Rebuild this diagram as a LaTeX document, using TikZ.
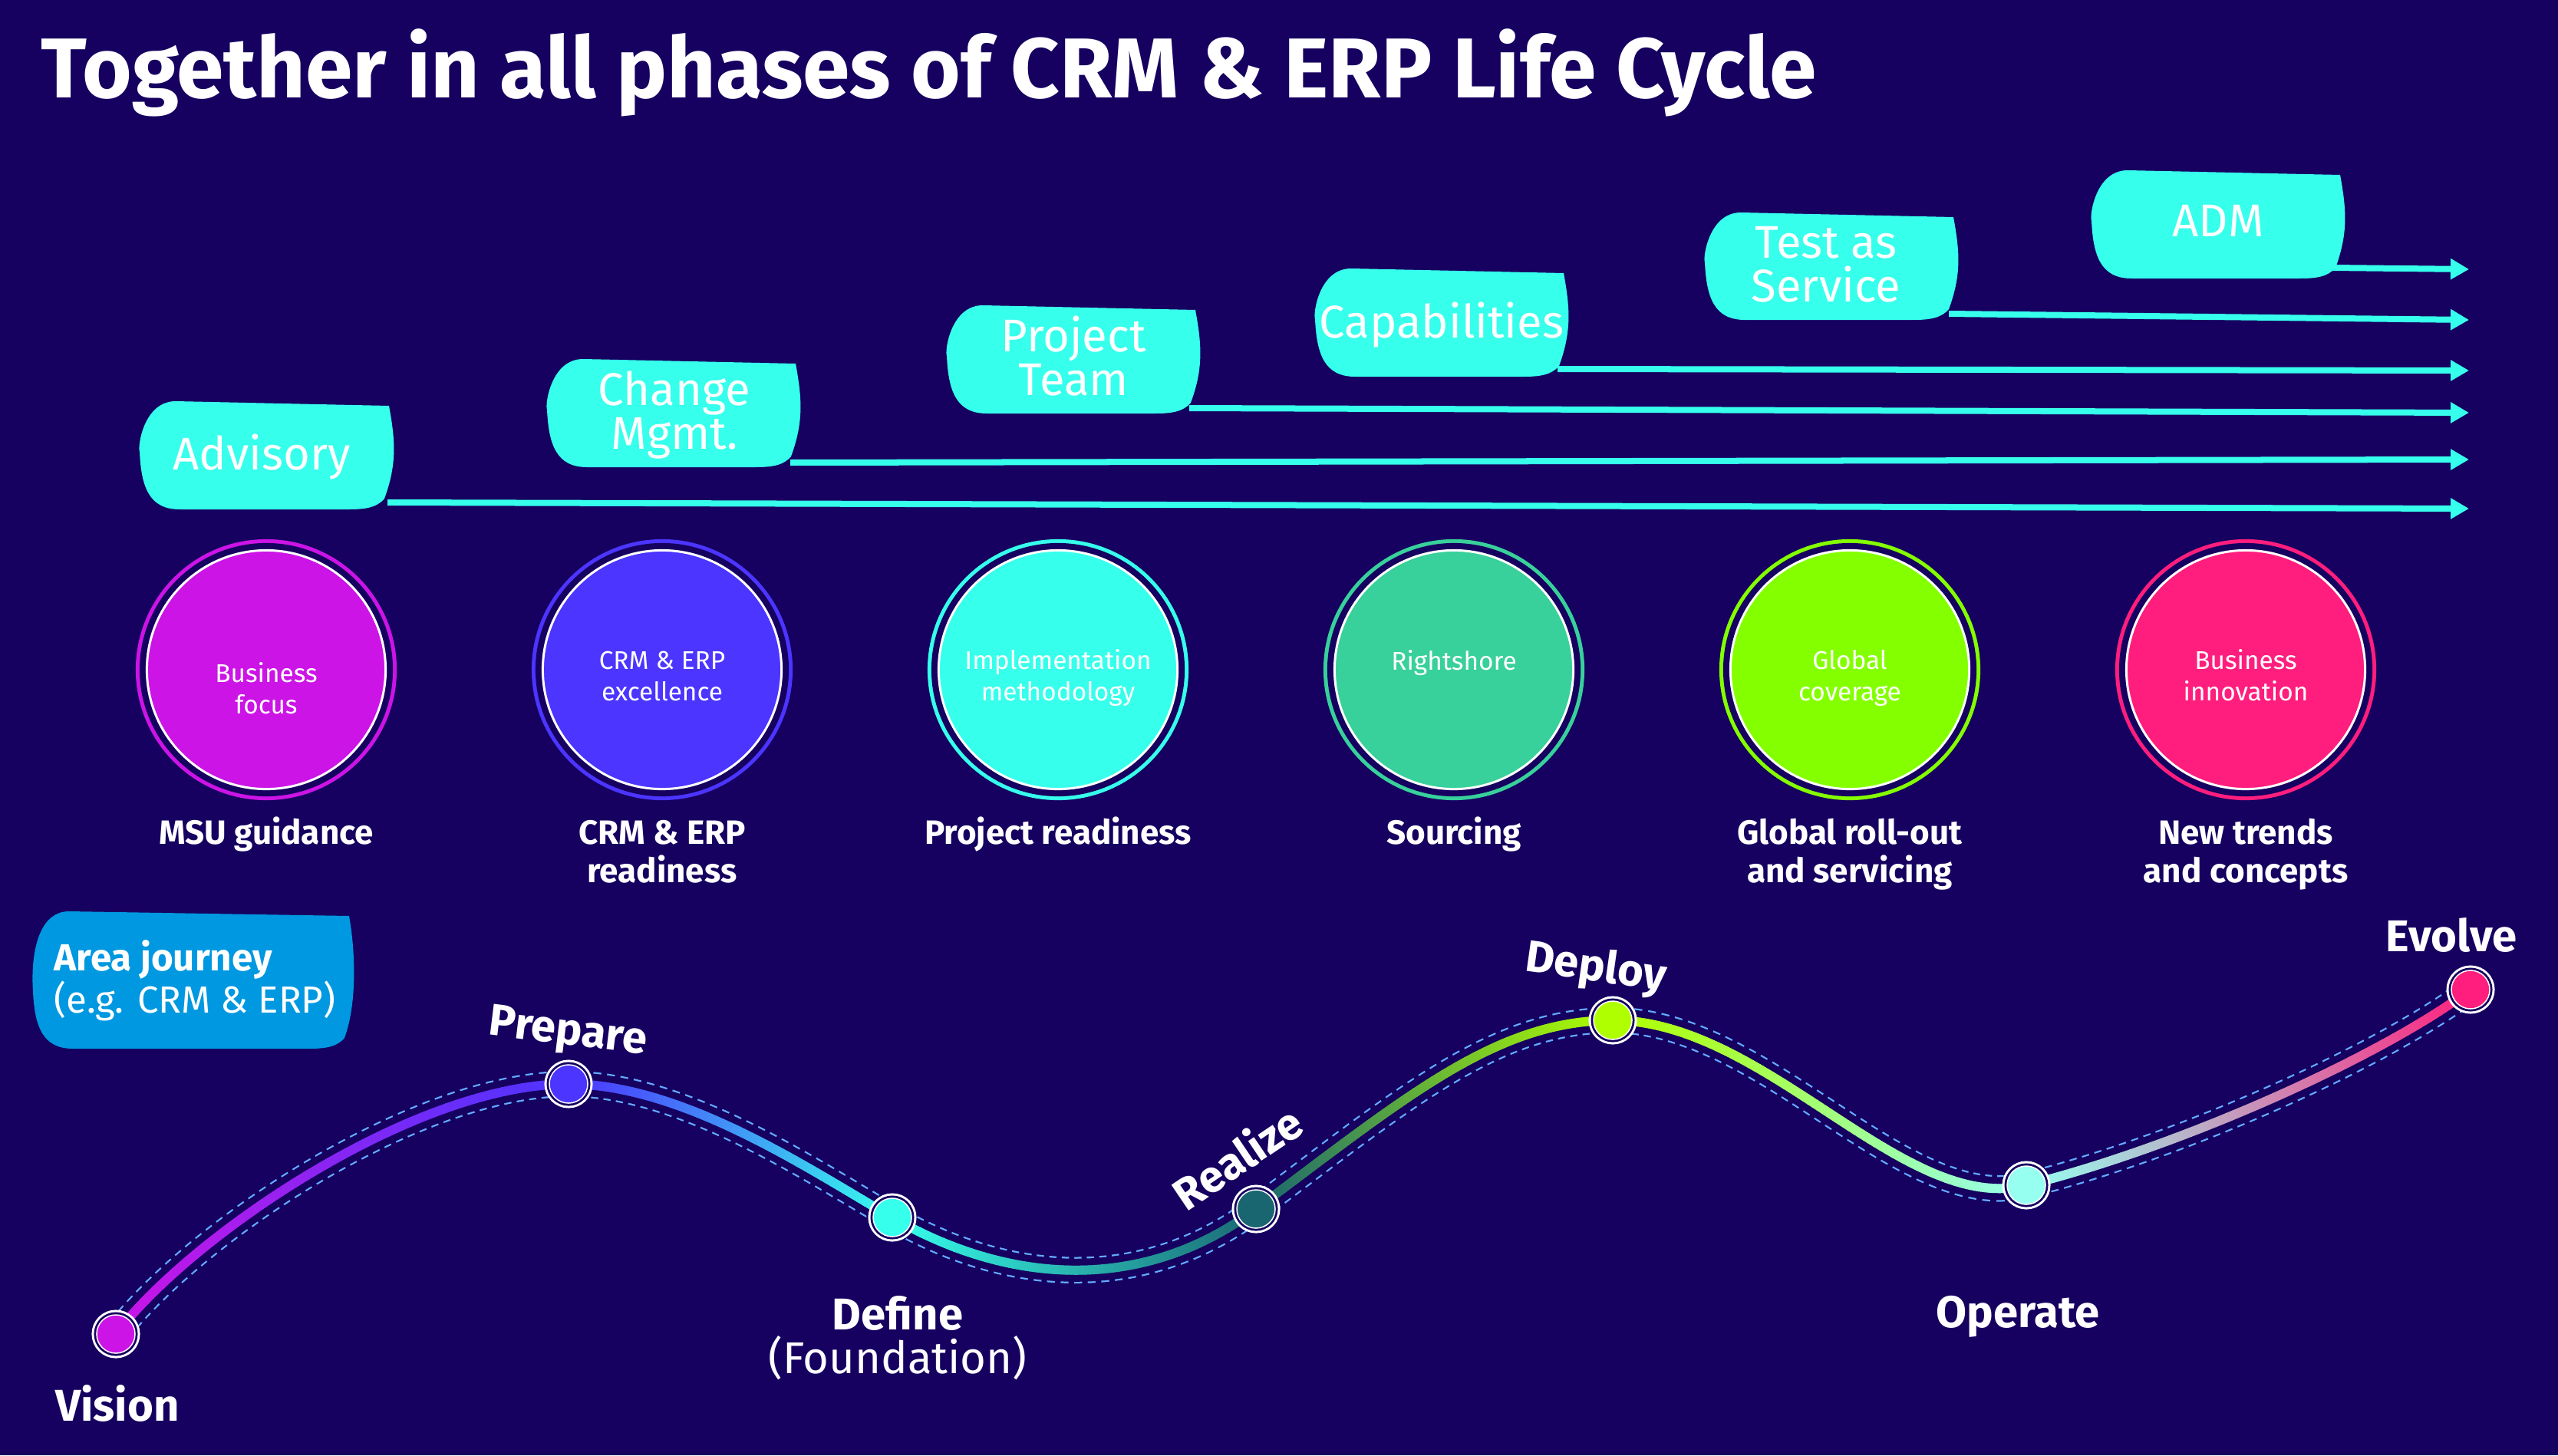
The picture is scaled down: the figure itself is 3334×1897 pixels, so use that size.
\documentclass[tikz,border=0pt]{standalone}
\usepackage{fontspec}
\setmainfont{Fira Sans}
\usetikzlibrary{arrows.meta,decorations.markings}
\definecolor{bg}{RGB}{22,0,96}
\definecolor{cyanx}{RGB}{54,255,236}
\definecolor{cMag}{RGB}{204,20,230}
\definecolor{cBlue}{RGB}{75,53,255}
\definecolor{cTeal}{RGB}{56,208,155}
\definecolor{cLime}{RGB}{132,255,0}
\definecolor{cPink}{RGB}{255,30,125}
\definecolor{jVision}{RGB}{204,20,230}
\definecolor{jPrepare}{RGB}{75,53,255}
\definecolor{jDefine}{RGB}{54,255,236}
\definecolor{jRealize}{RGB}{26,102,112}
\definecolor{jDeploy}{RGB}{176,255,0}
\definecolor{jOperate}{RGB}{150,255,240}
\definecolor{jEvolve}{RGB}{255,30,125}
\definecolor{areablue}{RGB}{0,152,224}
\definecolor{dashblue}{RGB}{100,170,255}
\newcommand\blobshape[5]{%
  \fill[#1] ({#2+50},#3) -- ({#4-8},{#3+6})
    .. controls ({#4},{#3+50}) and ({#4+3},{#5-60}) .. ({#4-14},{#5-14})
    .. controls ({#4-24},{#5-2}) and ({#4-40},#5) .. ({#4-60},#5)
    -- ({#2+55},#5)
    .. controls ({#2+15},#5) and ({#2+5},{#5-30}) .. ({#2+3},{#5-75})
    .. controls (#2,{#3+60}) and ({#2+8},#3) .. ({#2+50},#3) -- cycle;}
\newcommand\jpathdraw[1]{%
  \draw[#1] (V) .. controls (250,1610) and (540,1413) .. (P)
    .. controls (891,1413) and (1059,1527) .. (D)
    .. controls (1319,1677) and (1493,1684) .. (R)
    .. controls (1837,1426) and (1952,1330) .. (Dp)
    .. controls (2302,1330) and (2481,1585) .. (O)
    .. controls (2835,1497) and (3100,1380) .. (E);}
\tikzset{
  boxtxt/.style={text=white, font=\fontsize{17}{16.2}\selectfont, align=center, inner sep=0, anchor=base},
  ctxt/.style={text=white, font=\fontsize{9.5}{11.4}\selectfont, align=center, inner sep=0, anchor=base},
  clabel/.style={text=white, font=\bfseries\fontsize{12.5}{14.2}\selectfont, align=center, inner sep=0, anchor=base},
  jlabel/.style={text=white, font=\bfseries\fontsize{16.5}{16}\selectfont, inner sep=0},
  arr/.style={cyanx, line width=0.08cm, -{Triangle[length=0.24cm,width=0.26cm]}},
  bigc/.style={circle, inner sep=0, minimum size=3.11cm, fill=#1, draw=white, line width=0.03cm,
    preaction={draw=#1, line width=0.29cm}, preaction={draw=bg, line width=0.19cm}},
  jnode/.style={circle, inner sep=0, minimum size=0.5cm, fill=#1, draw=white, line width=0.015cm,
    preaction={draw=white, line width=0.13cm}, preaction={draw=bg, line width=0.07cm}},
  gradseg/.style 2 args={decorate, decoration={markings,
    mark=between positions 0 and 1 step 0.7pt with {%
      \pgfmathtruncatemacro\pc{100*(\pgfkeysvalueof{/pgf/decoration/mark info/distance from start}/\pgfdecoratedpathlength)}%
      \fill[#2!\pc!#1] (-0.5pt,-1.7pt) rectangle (0.5pt,1.7pt);}}}
}
\begin{document}
\begin{tikzpicture}[x=0.01cm,y=-0.01cm]
\fill[bg] (0,0) rectangle (3334,1897);
\useasboundingbox (0,0) rectangle (3334,1897);

% title
\node[anchor=base west, inner sep=0, text=white, font=\bfseries\fontsize{31.5}{36}\selectfont] (title) at (53,128) {Together in all phases of CRM \& ERP Life Cycle};

% arrows (behind boxes)
\coordinate (aS) at (505,655);  \coordinate (aE) at (3218,663);
\coordinate (bS) at (1030,603); \coordinate (bE) at (3218,599);
\coordinate (cS) at (1550,532); \coordinate (cE) at (3218,538);
\coordinate (dS) at (2030,481); \coordinate (dE) at (3218,483);
\coordinate (eS) at (2540,409); \coordinate (eE) at (3218,417);
\coordinate (fS) at (3040,349); \coordinate (fE) at (3218,351);
\draw[arr] (aS) -- (aE);
\draw[arr] (bS) -- (bE);
\draw[arr] (cS) -- (cE);
\draw[arr] (dS) -- (dE);
\draw[arr] (eS) -- (eE);
\draw[arr] (fS) -- (fE);

% boxes
\blobshape{cyanx}{179}{523}{515}{664}
\blobshape{cyanx}{710}{468}{1045}{609}
\blobshape{cyanx}{1231}{398}{1566}{539}
\blobshape{cyanx}{1711}{350}{2046}{491}
\blobshape{cyanx}{2219}{277}{2554}{417}
\blobshape{cyanx}{2723}{222}{3058}{363}
\node[boxtxt] (advisory) at (341,612) {Advisory};
\node[boxtxt] (change) at (879,585) {Change\\Mgmt.};
\node[boxtxt] (team) at (1399,515) {Project\\Team};
\node[boxtxt] (capab) at (1879,440) {Capabilities};
\node[boxtxt] (taas) at (2380,393) {Test as\\Service};
\node[boxtxt] (adm) at (2891,308) {ADM};

% circles
\node[bigc=cMag]  (c1) at (347,873) {};
\node[bigc=cBlue] (c2) at (863,873) {};
\node[bigc=cyanx] (c3) at (1379,873) {};
\node[bigc=cTeal] (c4) at (1895,873) {};
\node[bigc=cLime] (c5) at (2411,873) {};
\node[bigc=cPink] (c6) at (2927,873) {};
\node[ctxt] (t1) at (347,930) {Business\\focus};
\node[ctxt] (t2) at (863,913) {CRM \& ERP\\excellence};
\node[ctxt] (t3) at (1379,913) {Implementation\\methodology};
\node[ctxt] (t4) at (1895,873) {Rightshore};
\node[ctxt] (t5) at (2411,913) {Global\\coverage};
\node[ctxt] (t6) at (2927,913) {Business\\innovation};
\node[clabel] (l1) at (347,1100) {MSU guidance};
\node[clabel] (l2) at (863,1150) {CRM \& ERP\\readiness};
\node[clabel] (l3) at (1379,1100) {Project readiness};
\node[clabel] (l4) at (1895,1100) {Sourcing};
\node[clabel] (l5) at (2411,1150) {Global roll-out\\and servicing};
\node[clabel] (l6) at (2927,1150) {New trends\\and concepts};

% area journey box
\blobshape{areablue}{40}{1188}{463}{1367}
\node[anchor=base west, inner sep=0, text=white, font=\fontsize{14}{15.5}\selectfont, align=left] (area) at (70,1320) {\textbf{Area journey}\\(e.g. CRM \& ERP)};

% journey curve
\coordinate (V) at (151,1739);
\coordinate (P) at (741,1413);
\coordinate (D) at (1163,1587);
\coordinate (R) at (1637,1576);
\coordinate (Dp) at (2102,1330);
\coordinate (O) at (2641,1545);
\coordinate (E) at (3220,1290);
\jpathdraw{line width=0.345cm, dashblue}
\jpathdraw{line width=0.30cm, bg}
\jpathdraw{line width=0.37cm, bg, dash pattern=on 0.07cm off 0.10cm}
\path[gradseg={jVision}{jPrepare}] (V) .. controls (250,1610) and (540,1413) .. (P);
\path[gradseg={jPrepare}{jDefine}] (P) .. controls (891,1413) and (1059,1527) .. (D);
\path[gradseg={jDefine}{jRealize}] (D) .. controls (1319,1677) and (1493,1684) .. (R);
\path[gradseg={jRealize}{jDeploy}] (R) .. controls (1837,1426) and (1952,1330) .. (Dp);
\path[gradseg={jDeploy}{jOperate}] (Dp) .. controls (2302,1330) and (2481,1585) .. (O);
\path[gradseg={jOperate}{jEvolve}] (O) .. controls (2835,1497) and (3100,1380) .. (E);

\node[jnode=jVision] (nV) at (V) {};
\node[jnode=jPrepare] (nP) at (P) {};
\node[jnode=jDefine] (nD) at (D) {};
\node[jnode=jRealize] (nR) at (R) {};
\node[jnode=jDeploy] (nDp) at (Dp) {};
\node[jnode=jOperate] (nO) at (O) {};
\node[jnode=jEvolve] (nE) at (E) {};

\node[jlabel, anchor=base] (lV) at (153,1852) {Vision};
\node[jlabel, rotate=-7] (lP) at (740,1348) {Prepare};
\node[jlabel, anchor=base] (lD) at (1170,1733) {Define};
\node[anchor=base, inner sep=0, text=white, font=\fontsize{16.5}{16}\selectfont] (lF) at (1170,1790) {(Foundation)};
\node[jlabel, rotate=34] (lR) at (1612,1508) {Realize};
\node[jlabel, rotate=-8] (lDp) at (2080,1263) {Deploy};
\node[jlabel, anchor=base] (lO) at (2630,1730) {Operate};
\node[jlabel, anchor=base] (lE) at (3195,1240) {Evolve};
\end{tikzpicture}
\end{document}
